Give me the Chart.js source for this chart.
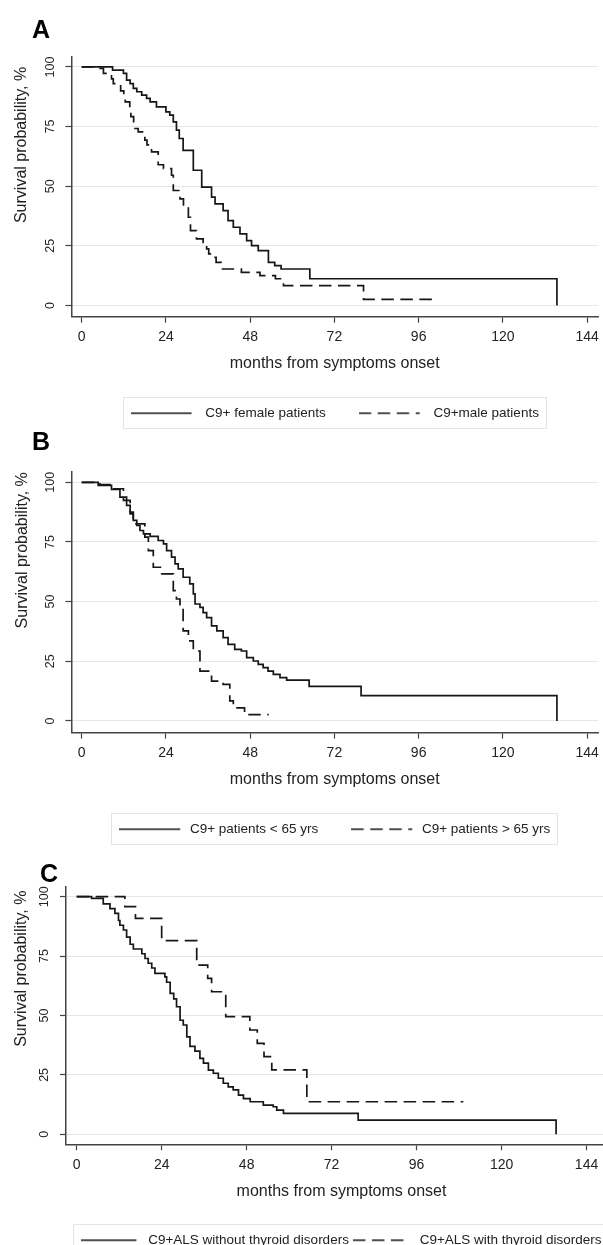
<!DOCTYPE html>
<html>
<head>
<meta charset="utf-8">
<script src="https://cdn.jsdelivr.net/npm/chart.js@4.4.1/dist/chart.umd.min.js"></script>
<style>
  html, body { margin: 0; padding: 0; overflow: hidden; background: #fff; width: 603px; height: 1245px; }
  .panel { position: absolute; left: 0; }
  canvas { display: block; }
</style>
</head>
<body>
<div class="panel" style="top:0px"><canvas id="chartA" width="603" height="430"></canvas></div>
<div class="panel" style="top:420px"><canvas id="chartB" width="603" height="426"></canvas></div>
<div class="panel" style="top:840px"><canvas id="chartC" width="640" height="417"></canvas></div>
<script>
// axis labels
const xTicks = [0, 24, 48, 72, 96, 120, 144];
const yTicks = [0, 25, 50, 75, 100];
const xTitle = 'months from symptoms onset';
const yTitle = 'Survival probability, %';

// A: sex
const femaleMonths = [0, 8.8, 11.9, 12.8, 13.8, 14.7, 15.7, 17.1, 18.5, 19.5, 21.3, 24.0, 25.1, 26.1, 27.0, 27.8, 28.9, 31.8, 34.2, 37.0, 38.0, 40.3, 41.7, 43.2, 45.1, 47.0, 48.4, 50.3, 53.2, 55.0, 56.8, 65.0, 135.4, 135.4];
const femaleSurv = [100, 98.7, 97.3, 94.5, 93.0, 91.0, 89.6, 88.2, 86.8, 85.4, 83.3, 81.2, 79.8, 77.0, 73.5, 70.0, 65.0, 56.7, 49.6, 45.4, 42.6, 39.8, 35.6, 32.8, 30.0, 27.2, 25.1, 23.0, 18.1, 16.7, 15.3, 11.2, 11.2, 0];
const maleMonths = [0, 4.5, 6.2, 8.5, 9.0, 11.1, 12.0, 12.4, 13.7, 14.0, 14.8, 16.1, 18.0, 18.6, 19.9, 21.8, 23.3, 25.6, 26.1, 28.0, 29.0, 30.4, 31.0, 32.7, 34.6, 35.6, 36.2, 37.5, 38.3, 39.7, 45.5, 50.8, 55.2, 57.5, 80.3, 101.0];
const maleSurv = [100, 99.4, 97.3, 95.0, 93.0, 90.0, 88.5, 85.4, 82.0, 79.2, 74.2, 72.8, 69.3, 67.3, 64.4, 59.0, 57.4, 54.6, 48.2, 44.7, 41.2, 37.0, 31.4, 27.9, 26.5, 23.7, 21.6, 20.2, 18.1, 15.3, 13.9, 12.5, 11.2, 8.3, 2.6, 2.6];
const labelsA = ['C9+ female patients', 'C9+male patients'];

// B: age
const under65Months = [0, 4.7, 8.5, 10.9, 12.8, 13.8, 14.7, 15.7, 16.6, 17.6, 19.5, 21.8, 23.3, 24.2, 25.6, 26.6, 27.5, 28.9, 30.8, 31.8, 32.3, 33.7, 34.6, 35.6, 37.0, 38.5, 40.3, 41.7, 43.6, 45.5, 47.0, 48.9, 50.3, 51.7, 53.1, 54.6, 56.5, 58.4, 64.8, 79.6, 135.4, 135.4];
const under65Surv = [100, 98.7, 97.0, 93.8, 90.3, 87.5, 84.0, 81.9, 79.8, 78.4, 77.3, 75.6, 74.2, 71.4, 68.6, 65.8, 63.7, 60.2, 57.4, 53.2, 49.0, 47.6, 45.4, 43.3, 39.8, 37.7, 34.9, 32.1, 30.0, 29.3, 26.5, 25.1, 23.7, 22.3, 20.9, 19.5, 18.1, 17.1, 14.5, 10.6, 10.6, 0];
const over65Months = [0, 5.2, 9.0, 11.9, 13.8, 14.7, 18.0, 19.0, 20.4, 22.8, 26.1, 27.0, 28.0, 28.9, 30.4, 31.8, 33.7, 37.0, 40.3, 42.2, 43.2, 46.4, 53.3];
const over65Surv = [100, 99.0, 97.3, 92.4, 86.8, 82.6, 77.0, 71.4, 64.4, 61.6, 54.6, 51.1, 48.2, 37.7, 33.5, 29.3, 20.9, 16.7, 15.3, 8.4, 5.5, 2.6, 2.6];
const labelsB = ['C9+ patients < 65 yrs', 'C9+ patients > 65 yrs'];

// C: thyroid disorders
const noThyMonths = [0, 4.2, 7.5, 9.4, 10.8, 11.8, 12.2, 13.2, 14.1, 15.1, 16.0, 18.4, 19.3, 20.2, 21.2, 22.1, 24.9, 25.4, 26.4, 27.4, 28.2, 29.2, 30.1, 31.1, 32.0, 33.4, 34.8, 35.8, 37.2, 38.6, 40.0, 41.4, 42.8, 44.2, 45.7, 47.1, 49.0, 52.7, 55.5, 56.5, 58.4, 79.5, 135.4, 135.4];
const noThySurv = [100, 99.3, 97.0, 95.0, 93.0, 90.0, 88.0, 86.0, 83.0, 80.0, 78.0, 76.0, 74.0, 72.0, 70.0, 67.7, 66.3, 64.0, 59.3, 57.0, 53.7, 48.0, 46.0, 41.0, 37.0, 35.0, 32.0, 30.0, 27.0, 25.7, 23.6, 21.5, 20.0, 18.7, 16.5, 15.0, 13.7, 12.3, 11.6, 10.2, 8.8, 6.0, 6.0, 0];
const thyMonths = [0, 13.6, 16.6, 24.0, 33.9, 37.0, 38.1, 42.1, 48.9, 51.0, 52.9, 55.1, 65.0, 109.2];
const thySurv = [100, 95.8, 90.9, 81.5, 71.2, 65.6, 60.0, 49.5, 43.9, 38.3, 32.7, 27.1, 13.7, 13.7];
const labelsC = ['C9+ALS without thyroid disorders', 'C9+ALS with thyroid disorders'];

Chart.defaults.font.family = '"Liberation Sans", Arial, Helvetica, sans-serif';
Chart.defaults.color = '#222';

const INK = '#161616';
const DASH = [12.5, 6.5];

function km(months, surv) {
  return months.map((m, i) => ({ x: m, y: surv[i] }));
}

// legend sample: line plus a blank gap before the text
function sample(dash, w, len) {
  const c = document.createElement('canvas');
  c.width = w; c.height = 6;
  const g = c.getContext('2d');
  g.strokeStyle = INK;
  g.lineWidth = 1.6;
  g.setLineDash(dash);
  g.beginPath(); g.moveTo(0, 3); g.lineTo(len, 3); g.stroke();
  return c;
}

// panel letter, legend frame and rotated y title
const frame = {
  id: 'frame',
  afterDraw(chart, args, opts) {
    const ctx = chart.ctx;
    const hb = chart.legend.legendHitBoxes;
    const first = hb[0], last = hb[hb.length - 1];
    const cy = first.top + first.height / 2;
    ctx.save();
    ctx.strokeStyle = '#e4e4e4';
    ctx.lineWidth = 1;
    ctx.strokeRect(Math.round(first.left - 8) + 0.5, Math.round(cy - 16.5) + 0.5,
      Math.round(last.left + last.width - first.left + 15), 31);

    ctx.fillStyle = '#000';
    ctx.font = 'bold 25px "Liberation Sans", Arial, sans-serif';
    ctx.textAlign = 'left';
    ctx.textBaseline = 'alphabetic';
    ctx.fillText(opts.letter, opts.letterX, opts.letterY);

    ctx.translate(opts.titleX, chart.scales.y.getPixelForValue(100) + opts.titleShift);
    ctx.rotate(-Math.PI / 2);
    ctx.font = '16px "Liberation Sans", Arial, sans-serif';
    ctx.fillStyle = '#222';
    ctx.textAlign = 'center';
    ctx.textBaseline = 'middle';
    ctx.fillText(yTitle, 0, 0);
    ctx.restore();
  }
};

function build(id, p) {
  return new Chart(document.getElementById(id), {
    type: 'line',
    data: {
      datasets: [{
        label: p.labels[0],
        data: km(p.solid[0], p.solid[1]),
        borderColor: INK,
        borderWidth: 1.7,
        stepped: 'before',
        pointRadius: 0,
        pointStyle: sample([], p.boxW, p.lineW),
        fill: false
      }, {
        label: p.labels[1],
        data: km(p.dashed[0], p.dashed[1]),
        borderColor: INK,
        borderWidth: 1.7,
        borderDash: DASH,
        stepped: 'before',
        pointRadius: 0,
        pointStyle: sample(DASH, p.boxW, p.lineW),
        fill: false
      }]
    },
    options: {
      responsive: false,
      animation: false,
      events: [],
      layout: { padding: { left: p.padL, right: p.padR, top: p.padT, bottom: 0 } },
      scales: {
        x: {
          type: 'linear',
          min: p.xMin,
          max: p.xMax,
          afterBuildTicks: s => { s.ticks = xTicks.map(v => ({ value: v })); },
          afterFit: s => { s.height = p.xH; s.paddingLeft = 0; s.paddingRight = 0; },
          grid: { drawOnChartArea: false, drawTicks: true, tickLength: 6, tickColor: '#444', tickWidth: 1.2 },
          border: { color: '#444', width: 1.5 },
          ticks: { color: '#222', font: { size: 14 }, padding: 6, maxRotation: 0, autoSkip: false },
          title: { display: true, text: xTitle, color: '#222', font: { size: 16 }, padding: { top: 0, bottom: p.xTitlePad } }
        },
        y: {
          min: p.yMin,
          max: p.yMax,
          afterBuildTicks: s => { s.ticks = yTicks.map(v => ({ value: v })); },
          afterFit: s => { s.width = p.yW; s.paddingTop = 0; s.paddingBottom = 0; },
          grid: { color: '#e6e6e6', lineWidth: 1, drawTicks: true, tickLength: 6, tickColor: '#444', tickWidth: 1.2 },
          border: { color: '#444', width: 1.5 },
          ticks: { color: '#222', font: { size: 12.5 }, padding: p.yTickPad, minRotation: 90, maxRotation: 90, crossAlign: 'center', autoSkip: false }
        }
      },
      plugins: {
        legend: {
          position: 'bottom', align: 'center', fullSize: false,
          labels: { usePointStyle: true, pointStyleWidth: p.boxW, color: '#222', font: { size: 13.5 }, padding: p.legPad }
        },
        tooltip: { enabled: false },
        frame: { letter: p.letter, letterX: p.letterX, letterY: p.letterY, titleX: p.titleX, titleShift: p.titleShift }
      }
    },
    plugins: [frame]
  });
}

build('chartA', {
  letter: 'A', letterX: 32, letterY: 38, labels: labelsA,
  solid: [femaleMonths, femaleSurv], dashed: [maleMonths, maleSurv],
  padL: 32, padR: 5, padT: 56.7, yW: 39.4, xH: 56.8, xTitlePad: 0.5,
  xMin: -2.93, xMax: 147.1, yMin: -4.7, yMax: 104.3,
  legPad: 33, boxW: 68, lineW: 61, yTickPad: 4.5, titleX: 22, titleShift: 78
});

build('chartB', {
  letter: 'B', letterX: 32, letterY: 30, labels: labelsB,
  solid: [under65Months, under65Surv], dashed: [over65Months, over65Surv],
  padL: 32, padR: 5, padT: 51.7, yW: 39.4, xH: 56.9, xTitlePad: 0,
  xMin: -2.93, xMax: 147.1, yMin: -4.9, yMax: 104.44,
  legPad: 33, boxW: 64, lineW: 61, yTickPad: 4, titleX: 23, titleShift: 68
});

build('chartC', {
  letter: 'C', letterX: 40, letterY: 42, labels: labelsC,
  solid: [noThyMonths, noThySurv], dashed: [thyMonths, thySurv],
  padL: 30, padR: 23, padT: 46.5, yW: 36, xH: 85.2, xTitlePad: 28,
  xMin: -3.02, xMax: 152.6, yMin: -4.2, yMax: 104.3,
  legPad: 4, boxW: 60, lineW: 55, yTickPad: 5.5, titleX: 22, titleShift: 72
});
</script>
</body>
</html>
